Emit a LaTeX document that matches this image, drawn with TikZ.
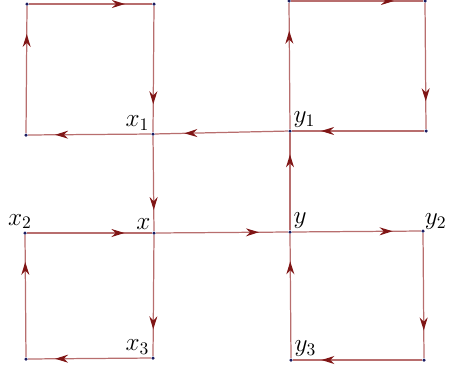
\documentclass[tikz,border=0pt]{standalone}
\usepackage{amsmath,amssymb}
\usepackage{xcolor}
\usepackage{tikz}
\usetikzlibrary{arrows.meta, decorations.markings}

\definecolor{edgered}{RGB}{184,110,110}
\definecolor{tipred}{RGB}{128,22,22}
\definecolor{dotblue}{RGB}{28,28,96}

\begin{document}
\begin{tikzpicture}[
  x=0.02cm, y=-0.02cm,
  dot/.style={circle, fill=dotblue, inner sep=0pt, minimum size=0.07cm},
  lbl/.style={font=\Large, inner sep=1pt},
  arr/.style={draw=edgered, line width=0.7pt, postaction={decorate},
    decoration={markings, mark=at position 0.78 with {\arrow[tipred]{Stealth[length=2.6mm, width=1.6mm]}}}}
]
\useasboundingbox (0,0) rectangle (449,373);

% upper left loop
\node[dot] (ul1) at (27,4) {};
\node[dot] (ul2) at (154,4) {};
\node[dot, label={[lbl]above left:$x_1$}] (x1) at (153,134) {};
\node[dot] (ul4) at (26,135) {};

% upper right loop
\node[dot] (ur1) at (289,1) {};
\node[dot] (ur2) at (425,1) {};
\node[dot] (ur4) at (426,131) {};
\node[dot, label={[lbl]above right:$y_1$}] (y1) at (290,131) {};

% middle row
\node[dot, label={[lbl, xshift=-1mm]above:$x_2$}] (x2) at (25,233) {};
\node[dot, label={[lbl]above left:$x$}] (x) at (154,233) {};
\node[dot, label={[lbl]above right:$y$}] (y) at (290,232) {};
\node[dot, label={[lbl, inner sep=0pt]above right:$y_2$}] (y2) at (423,231) {};

% lower loops
\node[dot, label={[lbl]above left:$x_3$}] (x3) at (153,358) {};
\node[dot] (ll4) at (26,359) {};
\node[dot, label={[lbl]above right:$y_3$}] (y3) at (291,360) {};
\node[dot] (lr3) at (424,360) {};

\draw[arr] (ul4)--(ul1); \draw[arr] (ul1)--(ul2);
\draw[arr] (ul2)--(x1); \draw[arr] (x1)--(ul4);
\draw[arr] (y1)--(ur1); \draw[arr] (ur1)--(ur2);
\draw[arr] (ur2)--(ur4); \draw[arr] (ur4)--(y1);
\draw[arr] (y1)--(x1); \draw[arr] (x1)--(x);
\draw[arr] (y)--(y1); \draw[arr] (x)--(y);
\draw[arr] (x2)--(x);
\draw[arr] (x)--(x3); \draw[arr] (x3)--(ll4); \draw[arr] (ll4)--(x2);
\draw[arr] (y)--(y2); \draw[arr] (y2)--(lr3); \draw[arr] (lr3)--(y3);
\draw[arr] (y3)--(y);
\end{tikzpicture}
\end{document}
